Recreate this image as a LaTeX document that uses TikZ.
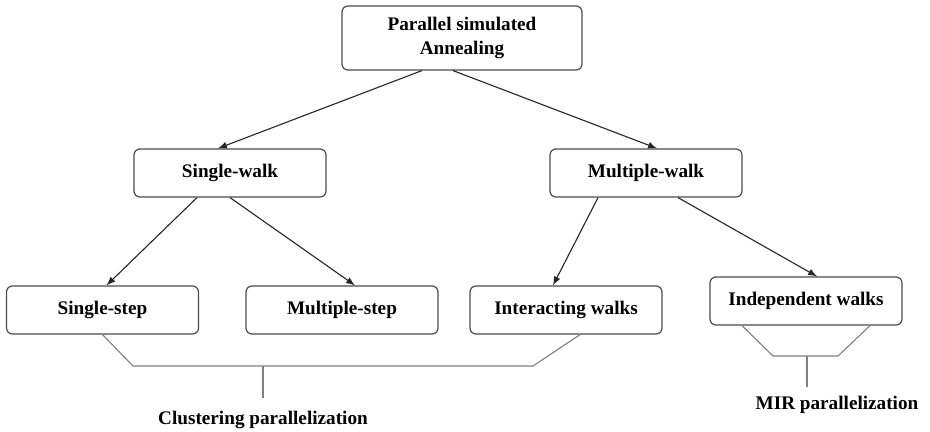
\documentclass[tikz,border=0pt]{standalone}
\usepackage{fontspec}
\setmainfont{Liberation Serif}
\usetikzlibrary{positioning,arrows,shapes}
\tikzset{
    box/.style={draw=black!70, rounded corners=3pt, fill=white, line width=0.6pt,
        minimum width=96pt, minimum height=24pt, align=center, inner sep=2pt,
        font=\fontsize{9.6}{12}\selectfont\bfseries},
    topbox/.style={box, minimum width=120pt, minimum height=32pt},
    link/.style={-latex, line width=0.55pt, draw=black!85},
    bracket/.style={draw=black!50, line width=0.55pt},
    tag/.style={font=\fontsize{9.6}{12}\selectfont\bfseries, inner xsep=2pt, inner ysep=#1},
}

\begin{document}
\begin{tikzpicture}[x=0.5pt, y=-0.5pt]
    \useasboundingbox[fill=white] (0,0) rectangle (930,432);
    % the tree
    \node[topbox] (psa) at (462,38) {Parallel simulated\\Annealing};
    \node[box] (sw) at (230,173) {Single-walk};
    \node[box] (mw) at (646,173) {Multiple-walk};
    \node[box] (ss) at (102.5,310) {Single-step};
    \node[box] (ms) at (342,310) {Multiple-step};
    \node[box] (iw) at (566,310) {Interacting walks};
    \node[box] (ind) at (806,301) {Independent walks};
    \draw[link] ([xshift=-20pt]psa.south) -- ([xshift=-6pt]sw.north);
    \draw[link] ([xshift=-4.5pt]psa.south) -- ([xshift=5.5pt]mw.north);
    \draw[link] ([xshift=-16.5pt]sw.south) -- ([xshift=2pt]ss.north);
    \draw[link] (sw.south) -- ([xshift=6.5pt]ms.north);
    \draw[link] ([xshift=-24pt]mw.south) -- ([xshift=-6.5pt]iw.north);
    \draw[link] ([xshift=16pt]mw.south) -- ([xshift=5.5pt]ind.north);
    % grouping brackets
    \coordinate (clL) at (133,366);
    \coordinate (clR) at (533,366);
    \coordinate (clM) at (263,366);
    \node[tag=6.5pt, anchor=north] (cl) at (263,398) {Clustering parallelization};
    \draw[bracket] (ss.south) -- (clL) -- (clR) -- ([xshift=7pt]iw.south);
    \draw[bracket] (clM) -- (cl.north);
    \coordinate (mirL) at (773,356);
    \coordinate (mirR) at (838,356);
    \coordinate (mirM) at (807,356);
    \node[tag=4.5pt, anchor=north] (mir) at (837,387) {MIR parallelization};
    \draw[bracket] ([xshift=-32pt]ind.south) -- (mirL) -- (mirR) -- ([xshift=32pt]ind.south);
    \draw[bracket] (mirM) -- (mir.north -| mirM);
\end{tikzpicture}
\end{document}
